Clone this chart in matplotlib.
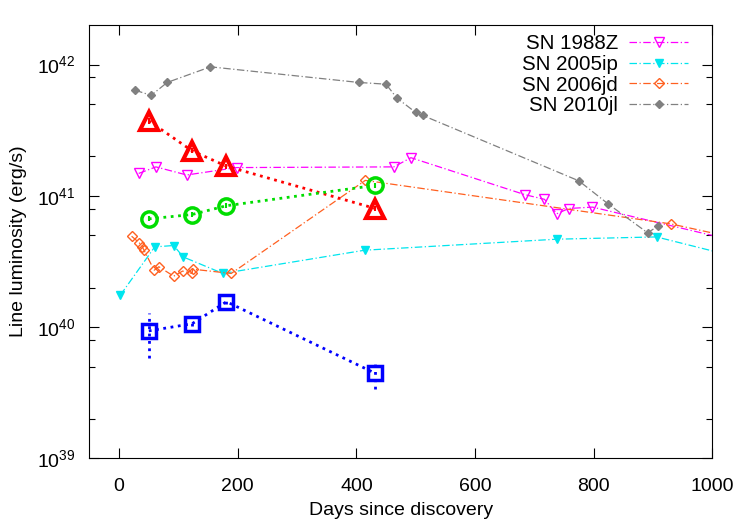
import matplotlib
matplotlib.use("Agg")
import matplotlib.pyplot as plt
import numpy as np
from matplotlib.ticker import FixedLocator, NullFormatter, LogFormatterMathtext

plt.rcParams['font.family'] = ['Liberation Sans', 'DejaVu Sans']
plt.rcParams['mathtext.fontset'] = 'custom'
plt.rcParams['mathtext.rm'] = 'Liberation Sans'

# SN 1988Z
d88 = [33, 62, 114, 198, 463, 492, 684, 717, 738, 758, 798, 1100]
l88 = [1.48e41, 1.66e41, 1.44e41, 1.64e41, 1.66e41, 1.95e41, 1.02e41, 9.4e40, 7.3e40, 8.0e40, 8.2e40, 3.9e40]
# SN 2005ip
d05 = [2, 60, 92, 108, 175, 414, 738, 906, 1100]
l05 = [1.75e40, 4.08e40, 4.18e40, 3.42e40, 2.56e40, 3.85e40, 4.67e40, 4.86e40, 2.93e40]
# SN 2006jd
d06 = [21, 34, 39, 42, 59, 67, 92, 107, 123, 124, 189, 415, 930, 1100]
l06 = [4.92e40, 4.38e40, 4.08e40, 3.85e40, 2.71e40, 2.88e40, 2.44e40, 2.67e40, 2.56e40, 2.76e40, 2.56e40, 1.31e41, 6.11e40, 4.15e40]
# SN 2010jl
d10 = [27, 54, 81, 154, 404, 450, 468, 500, 512, 775, 825, 891, 909]
l10 = [6.37e41, 5.82e41, 7.3e41, 9.6e41, 7.3e41, 7.08e41, 5.57e41, 4.31e41, 4.09e41, 1.30e41, 8.63e40, 5.22e40, 5.9e40]

# the three unlabelled series (same epochs)
d_big = [50, 123, 181, 432]
l_red = [3.72e41, 2.20e41, 1.68e41, 8.0e40]
l_green = [6.67e40, 7.2e40, 8.4e40, 1.20e41]
l_blue = [9.35e39, 1.06e40, 1.56e40, 4.44e39]
e_blue_lo = [3.5e39, 0.04e40, 0.05e40, 1.09e39]
e_blue_hi = [3.5e39, 0.04e40, 0.05e40, 1.16e39]
e_red = [0.2e41, 0.1e41, 0.08e41, 0.04e41]
e_green = [0.3e40, 0.3e40, 0.35e40, 0.5e40]

fig = plt.figure(figsize=(7.5, 5.25), dpi=100)
ax = fig.add_axes([0.1193, 0.127, 0.9497 - 0.1193, 0.9524 - 0.127])

ax.plot(d88, l88, color='#ff00ff', ls='-.', lw=0.9, marker='v', ms=7.5,
        mfc='none', mec='#ff00ff', mew=1.0, dashes=(6, 2, 1, 2), label='SN 1988Z')
ax.plot(d05, l05, color='#00e5ee', ls='-.', lw=0.9, marker='v', ms=5.5,
        mfc='#00e5ee', mec='#00e5ee', dashes=(6, 2, 1, 2), label='SN 2005ip')
ax.plot(d06, l06, color='#ff6020', ls='-.', lw=0.9, marker='D', ms=4.8,
        mfc='none', mec='#ff6020', mew=1.0, dashes=(6, 2, 1, 2), label='SN 2006jd')
ax.plot(d10, l10, color='#808080', ls='-.', lw=0.9, marker='D', ms=3.8,
        mfc='#808080', mec='#808080', dashes=(6, 2, 1, 2), label='SN 2010jl')

ax.errorbar(d_big, l_red, yerr=e_red, color='#ff0000', ls=':', lw=2, marker='^', ms=13.5,
            mfc='none', mew=3, elinewidth=1.5, capsize=0)
ax.errorbar(d_big, l_green, yerr=e_green, color='#00dd00', ls=':', lw=2, marker='o', ms=11,
            mfc='none', mew=2.5, elinewidth=1.5, capsize=0)
eb = ax.errorbar(d_big, l_blue, yerr=[e_blue_lo, e_blue_hi], color='#0000ff', ls=':', lw=2,
                 marker='s', ms=10, mfc='none', mew=2.5, elinewidth=2, capsize=0)
for c in eb[2]:
    c.set_linestyle(':')

ax.set_yscale('log')
ax.set_xlim(-50, 1000)
ax.set_ylim(1e39, 2e42)
ax.set_xticks([0, 200, 400, 600, 800, 1000])
ax.yaxis.set_major_locator(FixedLocator([1e39, 1e40, 1e41, 1e42]))
ax.yaxis.set_major_formatter(LogFormatterMathtext())
minors = [m * 10.0 ** k for k in range(39, 42) for m in (2, 5, 8)]
ax.yaxis.set_minor_locator(FixedLocator(minors))
ax.yaxis.set_minor_formatter(NullFormatter())
ax.tick_params(which='both', direction='in', top=True, right=True, labelsize=14)
ax.tick_params(axis='x', pad=14)
ax.tick_params(axis='y', pad=10)
ax.tick_params(which='major', length=7, width=0.8)
ax.tick_params(which='minor', length=4, width=0.8)
ax.tick_params(axis='x', which='minor', bottom=False, top=False)

ax.set_xlabel('Days since discovery', fontsize=14, labelpad=5)
ax.set_ylabel('Line luminosity (erg/s)', fontsize=14)
ax.yaxis.set_label_coords(-0.100, 0.5)

leg = ax.legend(loc='upper right', bbox_to_anchor=(0.976, 1.0), markerfirst=False,
                frameon=False, fontsize=14.8, handlelength=2.85, labelspacing=0.08,
                borderaxespad=0.05, handletextpad=0.55)
for t in leg.get_texts():
    t.set_ha('right')

fig.savefig('out.png', dpi=100)
